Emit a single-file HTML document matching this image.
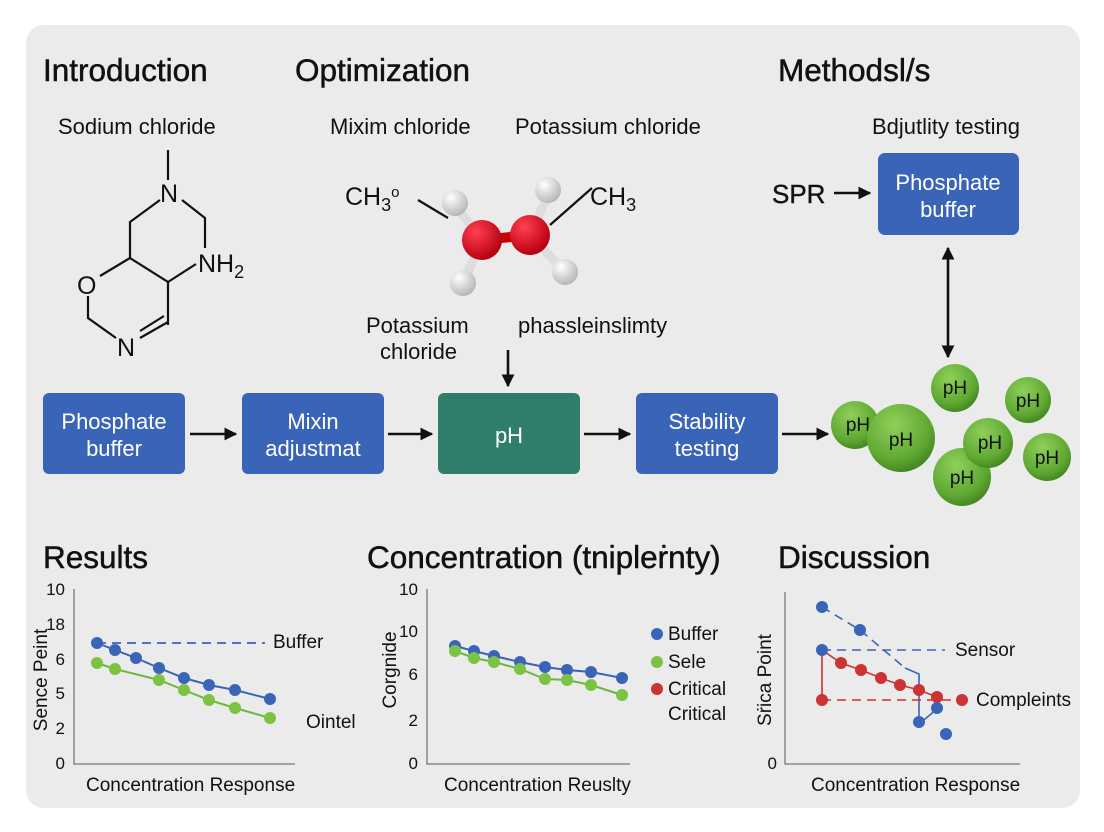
<!DOCTYPE html>
<html><head><meta charset="utf-8"><style>
html,body{margin:0;padding:0;background:#fff;width:1104px;height:832px;overflow:hidden}
svg{display:block;font-family:"Liberation Sans",sans-serif}
</style></head><body>
<svg width="1104" height="832" viewBox="0 0 1104 832" xmlns="http://www.w3.org/2000/svg">
<defs>
<marker id="ah" viewBox="0 0 10 10" refX="9" refY="5" markerWidth="5" markerHeight="5" orient="auto-start-reverse"><path d="M0,0 L10,5 L0,10 z" fill="#111"/></marker>
<radialGradient id="gw" cx="35%" cy="30%" r="70%"><stop offset="0" stop-color="#fff"/><stop offset="1" stop-color="#b8b8b8"/></radialGradient>
<radialGradient id="gr" cx="35%" cy="30%" r="70%"><stop offset="0" stop-color="#ff4050"/><stop offset="1" stop-color="#b80010"/></radialGradient>
<radialGradient id="gg" cx="40%" cy="30%" r="75%"><stop offset="0" stop-color="#8fd05a"/><stop offset="0.7" stop-color="#5ea832"/><stop offset="1" stop-color="#3f7f1e"/></radialGradient>
</defs>
<rect x="26" y="25" width="1054" height="783" rx="18" fill="#ebebeb"/>
<g font-size="31.5" fill="#111" stroke="#111" stroke-width="0.5">
<text x="43" y="81">Introduction</text>
<text x="295" y="81">Optimization</text>
<text x="778" y="81">Methodsl/s</text>
<text x="43" y="568">Results</text>
<text x="367" y="568">Concentration (tnipleṙnty)</text>
<text x="778" y="568">Discussion</text>
</g>
<g font-size="22" fill="#111">
<text x="58" y="134">Sodium chloride</text>
<text x="330" y="134">Mixim chloride</text>
<text x="515" y="134">Potassium chloride</text>
<text x="872" y="134">Bdjutlity testing</text>
<text x="366" y="333">Potassium</text>
<text x="380" y="359">chloride</text>
<text x="518" y="333">phassleinslimty</text>
</g>
<g stroke="#111" stroke-width="2.2" fill="none">
<line x1="168" y1="150" x2="168" y2="180"/>
<polyline points="160,200 130,222 130,258 168,282 168,325"/>
<polyline points="182,200 205,218 205,248"/>
<line x1="168" y1="282" x2="196" y2="264"/>
<polyline points="130,258 100,276"/>
<polyline points="88,296 88,318 116,338"/>
<line x1="140" y1="338" x2="168" y2="322"/>
<line x1="140" y1="331" x2="164" y2="316"/>
</g>
<g font-size="25" fill="#111">
<text x="160" y="202">N</text>
<text x="198" y="272">NH<tspan font-size="18" dy="6">2</tspan></text>
<text x="77" y="294">O</text>
<text x="117" y="356">N</text>
<text x="345" y="205">CH<tspan font-size="18" dy="6">3</tspan><tspan font-size="15" dy="-14">o</tspan></text>
<text x="590" y="205">CH<tspan font-size="18" dy="6">3</tspan></text>
</g>
<g stroke="#111" stroke-width="2.2"><line x1="418" y1="200" x2="448" y2="218"/><line x1="550" y1="225" x2="592" y2="188"/></g>
<g stroke="#ddd" stroke-width="9"><line x1="455" y1="205" x2="482" y2="240"/><line x1="548" y1="195" x2="530" y2="235"/><line x1="463" y1="283" x2="482" y2="240"/><line x1="565" y1="272" x2="530" y2="235"/></g>
<line x1="482" y1="240" x2="530" y2="235" stroke="#c00" stroke-width="10"/>
<circle cx="455" cy="203" r="13" fill="url(#gw)"/>
<circle cx="548" cy="190" r="13" fill="url(#gw)"/>
<circle cx="482" cy="240" r="20" fill="url(#gr)"/>
<circle cx="530" cy="235" r="20" fill="url(#gr)"/>
<circle cx="463" cy="283" r="13" fill="url(#gw)"/>
<circle cx="565" cy="272" r="13" fill="url(#gw)"/>
<g stroke="#111" stroke-width="2.6" marker-end="url(#ah)">
<line x1="508" y1="350" x2="508" y2="386"/>
<line x1="190" y1="434" x2="236" y2="434"/>
<line x1="388" y1="434" x2="432" y2="434"/>
<line x1="584" y1="434" x2="630" y2="434"/>
<line x1="782" y1="434" x2="828" y2="434"/>
<line x1="834" y1="193" x2="870" y2="193"/>
<line x1="948" y1="248" x2="948" y2="357" marker-start="url(#ah)"/>
</g>
<g>
<rect x="43" y="393" width="142" height="81" rx="6" fill="#3a64b8"/>
<rect x="242" y="393" width="142" height="81" rx="6" fill="#3a64b8"/>
<rect x="438" y="393" width="142" height="81" rx="6" fill="#2f7d6b"/>
<rect x="636" y="393" width="142" height="81" rx="6" fill="#3a64b8"/>
<rect x="878" y="153" width="141" height="82" rx="7" fill="#3a64b8"/>
</g>
<g font-size="22" fill="#fff" text-anchor="middle">
<text x="114" y="429">Phosphate</text><text x="114" y="456">buffer</text>
<text x="313" y="429">Mixin</text><text x="313" y="456">adjustmat</text>
<text x="509" y="443">pH</text>
<text x="707" y="429">Stability</text><text x="707" y="456">testing</text>
<text x="948" y="190">Phosphate</text><text x="948" y="217">buffer</text>
</g>
<text x="772" y="203" font-size="26" fill="#111" stroke="#111" stroke-width="0.4">SPR</text>
<g font-size="19" fill="#111" text-anchor="middle">
<circle cx="855" cy="425" r="24" fill="url(#gg)"/><text x="858" y="431">pH</text>
<circle cx="901" cy="438" r="34" fill="url(#gg)"/><text x="901" y="446">pH</text>
<circle cx="955" cy="388" r="24" fill="url(#gg)"/><text x="955" y="394">pH</text>
<circle cx="1028" cy="400" r="23" fill="url(#gg)"/><text x="1028" y="407">pH</text>
<circle cx="962" cy="477" r="29" fill="url(#gg)"/><text x="962" y="484">pH</text>
<circle cx="988" cy="443" r="25" fill="url(#gg)"/><text x="990" y="449">pH</text>
<circle cx="1047" cy="457" r="24" fill="url(#gg)"/><text x="1047" y="464">pH</text>
</g>
<g stroke="#777" stroke-width="1.3" fill="none"><polyline points="74,589 74,764 295,764"/><polyline points="427,589 427,764 630,764"/><polyline points="785,592 785,764 1020,764"/></g>
<g font-size="17" fill="#111" text-anchor="end">
<text x="65" y="595">10</text><text x="65" y="630">18</text><text x="65" y="665">6</text><text x="65" y="699">5</text><text x="65" y="734">2</text><text x="65" y="769">0</text>
<text x="418" y="595">10</text><text x="418" y="637">10</text><text x="418" y="680">6</text><text x="418" y="726">2</text><text x="418" y="769">0</text>
<text x="777" y="769">0</text>
</g>
<g font-size="19" fill="#111">
<text transform="translate(47,680) rotate(-90)" text-anchor="middle">Sence Peint</text>
<text transform="translate(396,670) rotate(-90)" text-anchor="middle">Corgnide</text>
<text transform="translate(771,680) rotate(-90)" text-anchor="middle">Sṙica Point</text>
<text x="86" y="791">Concentration Response</text>
<text x="444" y="791">Concentration Reuslty</text>
<text x="811" y="791">Concentration Response</text>
<text x="273" y="648">Buffer</text>
<text x="306" y="728">Ointel</text>
<text x="668" y="640">Buffer</text>
<text x="668" y="668">Sele</text>
<text x="668" y="695">Critical</text>
<text x="668" y="720">Critical</text>
<text x="955" y="656">Sensor</text>
<text x="976" y="706">Compleints</text>
</g>
<line x1="97" y1="643" x2="265" y2="643" stroke="#3a64b8" stroke-width="1.8" stroke-dasharray="9,6"/>
<g stroke-width="2" fill="none">
<polyline stroke="#3a64b8" points="97,643 115,650 136,658 159,668 184,678 209,685 235,690 270,699"/>
<polyline stroke="#6cb83c" points="97,663 115,669 159,680 184,690 209,700 235,708 270,718"/>
<polyline stroke="#3a64b8" points="455,646 474,651 494,656 520,662 545,667 567,670 591,672 622,678"/>
<polyline stroke="#6cb83c" points="455,651 474,658 494,662 520,669 545,679 567,680 591,685 622,695"/>
</g>
<g fill="#3a64b8"><circle cx="97" cy="643" r="6"/><circle cx="115" cy="650" r="6"/><circle cx="136" cy="658" r="6"/><circle cx="159" cy="668" r="6"/><circle cx="184" cy="678" r="6"/><circle cx="209" cy="685" r="6"/><circle cx="235" cy="690" r="6"/><circle cx="270" cy="699" r="6"/>
<circle cx="455" cy="646" r="6"/><circle cx="474" cy="651" r="6"/><circle cx="494" cy="656" r="6"/><circle cx="520" cy="662" r="6"/><circle cx="545" cy="667" r="6"/><circle cx="567" cy="670" r="6"/><circle cx="591" cy="672" r="6"/><circle cx="622" cy="678" r="6"/><circle cx="657" cy="634" r="6"/></g>
<g fill="#7cc244"><circle cx="97" cy="663" r="6"/><circle cx="115" cy="669" r="6"/><circle cx="159" cy="680" r="6"/><circle cx="184" cy="690" r="6"/><circle cx="209" cy="700" r="6"/><circle cx="235" cy="708" r="6"/><circle cx="270" cy="718" r="6"/>
<circle cx="455" cy="651" r="6"/><circle cx="474" cy="658" r="6"/><circle cx="494" cy="662" r="6"/><circle cx="520" cy="669" r="6"/><circle cx="545" cy="679" r="6"/><circle cx="567" cy="680" r="6"/><circle cx="591" cy="685" r="6"/><circle cx="622" cy="695" r="6"/><circle cx="657" cy="662" r="6"/></g>
<circle cx="657" cy="689" r="6" fill="#cc3333"/>
<g fill="none" stroke-width="1.6">
<polyline stroke="#3a64b8" stroke-dasharray="9,6" points="822,607 860,630 905,668"/>
<polyline stroke="#3a64b8" points="905,668 919,674 919,724 937,709"/>
<line x1="822" y1="650" x2="945" y2="650" stroke="#3a64b8" stroke-dasharray="9,6"/>
<polyline stroke="#cc3333" points="822,700 822,650 841,663 861,670 881,678 900,685 919,690 937,697"/>
<line x1="822" y1="700" x2="962" y2="700" stroke="#cc3333" stroke-dasharray="9,6"/>
</g>
<g fill="#cc3333"><circle cx="841" cy="663" r="6"/><circle cx="861" cy="670" r="6"/><circle cx="881" cy="678" r="6"/><circle cx="900" cy="685" r="6"/><circle cx="919" cy="690" r="6"/><circle cx="937" cy="697" r="6"/><circle cx="962" cy="700" r="6"/><circle cx="822" cy="700" r="6"/></g>
<g fill="#3a64b8"><circle cx="822" cy="607" r="6"/><circle cx="860" cy="630" r="6"/><circle cx="822" cy="650" r="6"/><circle cx="919" cy="722" r="6"/><circle cx="937" cy="708" r="6"/><circle cx="946" cy="734" r="6"/></g>
</svg>
</body></html>
